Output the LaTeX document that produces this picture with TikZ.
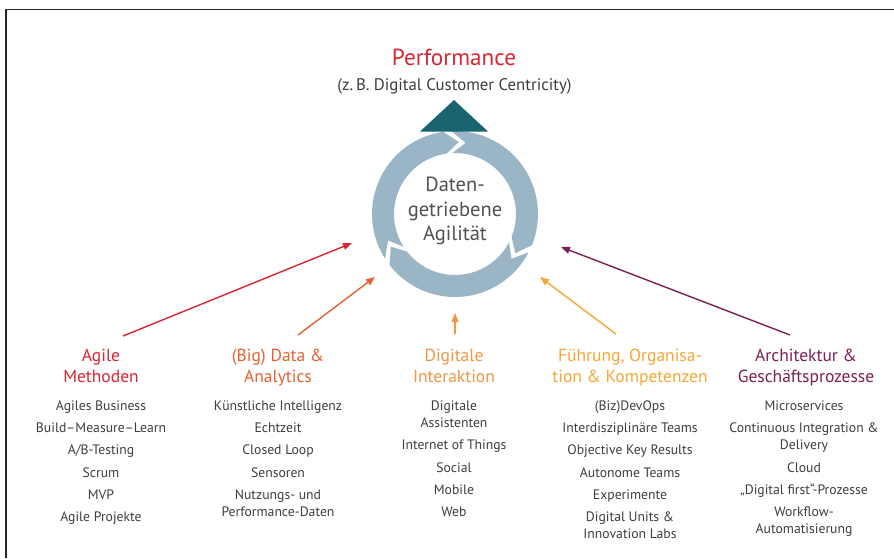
\documentclass[tikz,border=0pt]{standalone}
\usepackage{fontspec}
\setmainfont{PT Sans}
\usetikzlibrary{arrows.meta}
\definecolor{cred}{RGB}{218,38,52}
\definecolor{cbig}{RGB}{230,98,52}
\definecolor{cdig}{RGB}{240,150,72}
\definecolor{cfue}{RGB}{245,168,52}
\definecolor{carc}{RGB}{122,32,84}
\definecolor{ctxt}{RGB}{62,62,62}
\definecolor{cring}{RGB}{154,182,198}
\definecolor{cteal}{RGB}{26,100,114}
\tikzset{
  item/.style={anchor=base, inner sep=0pt, text=ctxt, font=\fontsize{13.7}{16}\selectfont},
  head/.style={anchor=base, inner sep=0pt, font=\fontsize{17.5}{20}\selectfont},
  conn/.style={line width=1.4pt, -{Triangle[length=9pt,width=7pt]}},
  seg/.style={fill=cring, draw=none}
}
\begin{document}
\begin{tikzpicture}[x=1pt,y=-1pt]
\useasboundingbox (0,0) rectangle (894,558);
\fill[white] (0,0) rectangle (894,558);
% frame
\draw[line width=1.6pt, black!85] (6,558) -- (6,9.5) -- (894,9.5);

% title
\node[anchor=base, inner sep=0pt, text=cred, font=\fontsize{23.2}{26}\selectfont] (perf) at (454,65) {Performance};
\node[anchor=base, inner sep=0pt, text=ctxt, font=\fontsize{16.8}{19}\selectfont] (sub) at (454.5,90) {(z.\,B. Digital Customer Centricity)};

% ring
\begin{scope}[shift={(455,214)}, yscale=-1]
  \def\ro{83}\def\ri{61}\def\rm{72}
  \foreach \S/\E in {92.5/-22, -27.5/-142, -147.5/-262}{
    \fill[seg] (\S:\ro) arc[start angle=\S, end angle=\E, radius=\ro]
      -- (\E-11:\rm) -- (\E:\ri)
      arc[start angle=\E, end angle=\S, radius=\ri]
      -- (\S-11:\rm) -- cycle;
  }
\end{scope}

% triangle
\fill[cteal] (454,100) -- (488,131.5) -- (420,131.5) -- cycle;

% center text
\node[anchor=base, inner sep=0pt, text=ctxt!90, font=\fontsize{20.5}{24}\selectfont] (c1) at (455,191.5) {Daten-};
\node[anchor=base, inner sep=0pt, text=ctxt!90, font=\fontsize{20.5}{24}\selectfont] (c2) at (455,216) {getriebene};
\node[anchor=base, inner sep=0pt, text=ctxt!90, font=\fontsize{20.5}{24}\selectfont] (c3) at (455,240) {Agilität};

% arrow coordinates
\coordinate (s1) at (123,336); \coordinate (e1) at (352,243);
\coordinate (s2) at (298,335); \coordinate (e2) at (375,277);
\coordinate (s3) at (455,334); \coordinate (e3) at (455,313);
\coordinate (s4) at (616,334); \coordinate (e4) at (540,277);
\coordinate (s5) at (790,335); \coordinate (e5) at (561,247);
\draw[conn, cred] (s1) -- (e1);
\draw[conn, cbig] (s2) -- (e2);
\draw[conn, cdig] (s3) -- (e3);
\draw[conn, cfue] (s4) -- (e4);
\draw[conn, carc] (s5) -- (e5);

% column 1
\node[head, text=cred] (h1a) at (101,361.5) {Agile};
\node[head, text=cred] (h1b) at (101,382.5) {Methoden};
\node[item] (i1a) at (101,410) {Agiles Business};
\node[item] (i1b) at (101,432.5) {Build–Measure–Learn};
\node[item] (i1c) at (101,454.5) {A/B-Testing};
\node[item] (i1d) at (101,477) {Scrum};
\node[item] (i1e) at (101,499) {MVP};
\node[item] (i1f) at (101,521.5) {Agile Projekte};

% column 2
\node[head, text=cbig] (h2a) at (278,361.5) {(Big) Data \&};
\node[head, text=cbig] (h2b) at (278,382.5) {Analytics};
\node[item] (i2a) at (278,410) {Künstliche Intelligenz};
\node[item] (i2b) at (278,432.5) {Echtzeit};
\node[item] (i2c) at (278,454.5) {Closed Loop};
\node[item] (i2d) at (278,477) {Sensoren};
\node[item] (i2e) at (278,499) {Nutzungs- und};
\node[item] (i2f) at (278,516) {Performance-Daten};

% column 3
\node[head, text=cdig] (h3a) at (454,361.5) {Digitale};
\node[head, text=cdig] (h3b) at (454,382.5) {Interaktion};
\node[item] (i3a) at (454,410) {Digitale};
\node[item] (i3b) at (454,427) {Assistenten};
\node[item] (i3c) at (454,449.5) {Internet of Things};
\node[item] (i3d) at (454,472) {Social};
\node[item] (i3e) at (454,494.5) {Mobile};
\node[item] (i3f) at (454,516.5) {Web};

% column 4
\node[head, text=cfue] (h4a) at (630,361.5) {Führung, Organisa-};
\node[head, text=cfue] (h4b) at (630,382.5) {tion \& Kompetenzen};
\node[item] (i4a) at (630,410) {(Biz)DevOps};
\node[item] (i4b) at (630,432) {Interdisziplinäre Teams};
\node[item] (i4c) at (630,454.5) {Objective Key Results};
\node[item] (i4d) at (630,477) {Autonome Teams};
\node[item] (i4e) at (630,499) {Experimente};
\node[item] (i4f) at (630,521.5) {Digital Units \&};
\node[item] (i4g) at (630,538.5) {Innovation Labs};

% column 5
\node[head, text=carc] (h5a) at (806,361.5) {Architektur \&};
\node[head, text=carc] (h5b) at (806,382.5) {Geschäftsprozesse};
\node[item] (i5a) at (804,410) {Microservices};
\node[item] (i5b) at (804,432.5) {Continuous Integration \&};
\node[item] (i5c) at (804,449.5) {Delivery};
\node[item] (i5d) at (804,472) {Cloud};
\node[item] (i5e) at (804,494) {„Digital first“-Prozesse};
\node[item] (i5f) at (804,516.5) {Workflow-};
\node[item] (i5g) at (804,533.5) {Automatisierung};
\end{tikzpicture}
\end{document}
